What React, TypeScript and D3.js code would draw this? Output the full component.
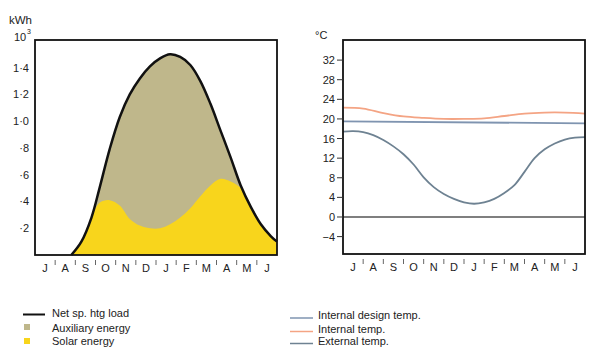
import React from "react";
import * as d3 from "d3";

// months, July -> June
const months = ["J", "A", "S", "O", "N", "D", "J", "F", "M", "A", "M", "J"];

// left chart: heating (kWh x 10^3), x = months since start of July
const energyX = [1.8, 2.3, 2.8, 3.2, 3.7, 4.2, 4.7, 5.2, 5.7, 6.2, 6.7, 7.2, 7.7, 8.2, 8.7, 9.2, 9.7, 10.2, 10.7, 11.2, 11.7, 12.0];
const netLoad = [0, 0.1, 0.28, 0.5, 0.79, 1.03, 1.2, 1.32, 1.41, 1.47, 1.5, 1.48, 1.42, 1.3, 1.13, 0.93, 0.73, 0.52, 0.36, 0.23, 0.14, 0.1];
const solar = [0, 0.1, 0.28, 0.39, 0.41, 0.37, 0.27, 0.22, 0.2, 0.2, 0.23, 0.28, 0.35, 0.44, 0.52, 0.57, 0.55, 0.5, 0.36, 0.23, 0.14, 0.1];
const energyTicks = [0.2, 0.4, 0.6, 0.8, 1.0, 1.2, 1.4];
const energyTickLabels = ["·2", "·4", "·6", "·8", "1·0", "1·2", "1·4"];

// right chart: temperatures (°C)
const tempX = [0, 1, 2, 3, 4, 5, 6, 7, 8, 9, 10, 11, 12];
const internalTemp = [22.3, 22.1, 21.2, 20.5, 20.2, 20.0, 20.0, 20.1, 20.6, 21.1, 21.3, 21.3, 21.1];
const designX = [0, 12];
const designTemp = [19.5, 19.1];
const extX = [0, 0.5, 1, 1.5, 2, 2.5, 3, 3.5, 4, 4.5, 5, 5.5, 6, 6.5, 7, 7.5, 8, 8.5, 9, 9.5, 10, 10.5, 11, 11.5, 12];
const externalTemp = [17.4, 17.5, 17.3, 16.7, 15.7, 14.4, 12.8, 10.7, 8.1, 6.1, 4.7, 3.7, 3.0, 2.7, 3.0, 3.7, 4.9, 6.5, 9.2, 12.0, 13.8, 15.0, 15.8, 16.2, 16.3];
const tempTicks = [-4, 0, 4, 8, 12, 16, 20, 24, 28, 32];

const FONT = "'Liberation Sans', Arial, sans-serif";
const AUX = "#bfb78b";
const YELLOW = "#f8d51c";
const ORANGE = "#f4a484";
const DESIGN = "#7f94b0";
const EXTERNAL = "#6e8292";
const CURVE = d3.curveCatmullRom.alpha(0.5);

function MonthAxis({ x, y0 }: { x: d3.ScaleLinear<number, number>; y0: number }) {
  return (
    <g>
      {months.map((m, i) => (
        <text key={"m" + i} x={x(i + 0.5)} y={y0 + 17} textAnchor="middle" fontSize={11} fontFamily={FONT} fill="#222">
          {m}
        </text>
      ))}
      {d3.range(1, 12).map((i) => (
        <line key={"t" + i} x1={x(i)} x2={x(i)} y1={y0 + 5} y2={y0 + 10} stroke="#555" strokeWidth={0.9} />
      ))}
    </g>
  );
}

function EnergyChart() {
  const left = 35, right = 277, top = 40, bottom = 255;
  const x = d3.scaleLinear().domain([0, 12]).range([left, right]);
  const y = d3.scaleLinear().domain([0, 1.607]).range([bottom, top]);
  const pts = energyX.map((v, i) => ({ x: v, load: netLoad[i], solar: solar[i] }));
  const loadArea = d3.area<any>().x((d) => x(d.x)).y0(y(0)).y1((d) => y(d.load)).curve(CURVE)(pts) as string;
  const solarArea = d3.area<any>().x((d) => x(d.x)).y0(y(0)).y1((d) => y(d.solar)).curve(CURVE)(pts) as string;
  const loadLine = d3.line<any>().x((d) => x(d.x)).y((d) => y(d.load)).curve(CURVE)(pts) as string;
  return (
    <g>
      <path d={loadArea} fill={AUX} />
      <path d={solarArea} fill={YELLOW} />
      <path d={loadLine} fill="none" stroke="#111" strokeWidth={2.5} />
      <rect x={left} y={top} width={right - left} height={bottom - top} fill="none" stroke="#111" strokeWidth={1.8} />
      {energyTicks.map((t, i) => (
        <text key={t} x={left - 6} y={y(t) + 4} textAnchor="end" fontSize={11} fontFamily={FONT} fill="#222">
          {energyTickLabels[i]}
        </text>
      ))}
      <text x={9} y={24} fontSize={11.5} fontFamily={FONT} fill="#222">kWh</text>
      <text x={14} y={41} fontSize={11} fontFamily={FONT} fill="#222">10</text>
      <text x={27} y={34} fontSize={7} fontFamily={FONT} fill="#222">3</text>
      <MonthAxis x={x} y0={bottom} />
    </g>
  );
}

function TempChart() {
  const left = 343, right = 585, top = 40, bottom = 254;
  const x = d3.scaleLinear().domain([0, 12]).range([left, right]);
  const y = d3.scaleLinear().domain([-7.55, 36.1]).range([bottom, top]);
  const line = (xs: number[], ys: number[], curve: any = CURVE) =>
    d3.line<number>().x((d, i) => x(xs[i])).y((d) => y(d)).curve(curve)(ys) as string;
  return (
    <g>
      <line x1={left} x2={right} y1={y(0)} y2={y(0)} stroke="#555" strokeWidth={1.6} />
      <path d={line(designX, designTemp, d3.curveLinear)} fill="none" stroke={DESIGN} strokeWidth={1.8} />
      <path d={line(tempX, internalTemp)} fill="none" stroke={ORANGE} strokeWidth={1.8} />
      <path d={line(extX, externalTemp)} fill="none" stroke={EXTERNAL} strokeWidth={1.8} />
      <rect x={left} y={top} width={right - left} height={bottom - top} fill="none" stroke="#111" strokeWidth={1.8} />
      {tempTicks.map((t) => (
        <g key={t}>
          <line x1={left - 6} x2={left} y1={y(t)} y2={y(t)} stroke="#333" strokeWidth={1} />
          <text x={left - 8} y={y(t) + 4} textAnchor="end" fontSize={11} fontFamily={FONT} fill="#222">
            {t < 0 ? "\u2212" + Math.abs(t) : t}
          </text>
        </g>
      ))}
      <text x={315} y={39} fontSize={11} fontFamily={FONT} fill="#222">°C</text>
      <MonthAxis x={x} y0={bottom} />
    </g>
  );
}

function Legends() {
  const t = { fontSize: 11, fontFamily: FONT, fill: "#222" };
  return (
    <g>
      <line x1={23} x2={45} y1={314.5} y2={314.5} stroke="#111" strokeWidth={2} />
      <text x={52} y={317} {...t}>Net sp. htg load</text>
      <rect x={24} y={324} width={6} height={6} fill={AUX} />
      <text x={52} y={331.5} {...t}>Auxiliary energy</text>
      <rect x={24} y={338} width={6} height={6} fill={YELLOW} />
      <text x={52} y={345} {...t}>Solar energy</text>

      <line x1={290} x2={313} y1={318} y2={318} stroke={DESIGN} strokeWidth={1.5} />
      <text x={318} y={318.5} {...t}>Internal design temp.</text>
      <line x1={290} x2={313} y1={331.5} y2={331.5} stroke={ORANGE} strokeWidth={1.5} />
      <text x={318} y={333} {...t}>Internal temp.</text>
      <line x1={290} x2={313} y1={343.5} y2={343.5} stroke={EXTERNAL} strokeWidth={1.5} />
      <text x={318} y={345} {...t}>External temp.</text>
    </g>
  );
}

export default function App() {
  return (
    <svg width={600} height={360} style={{ position: "absolute", left: 0, top: 0, background: "#fff" }}>
      <EnergyChart />
      <TempChart />
      <Legends />
    </svg>
  );
}
